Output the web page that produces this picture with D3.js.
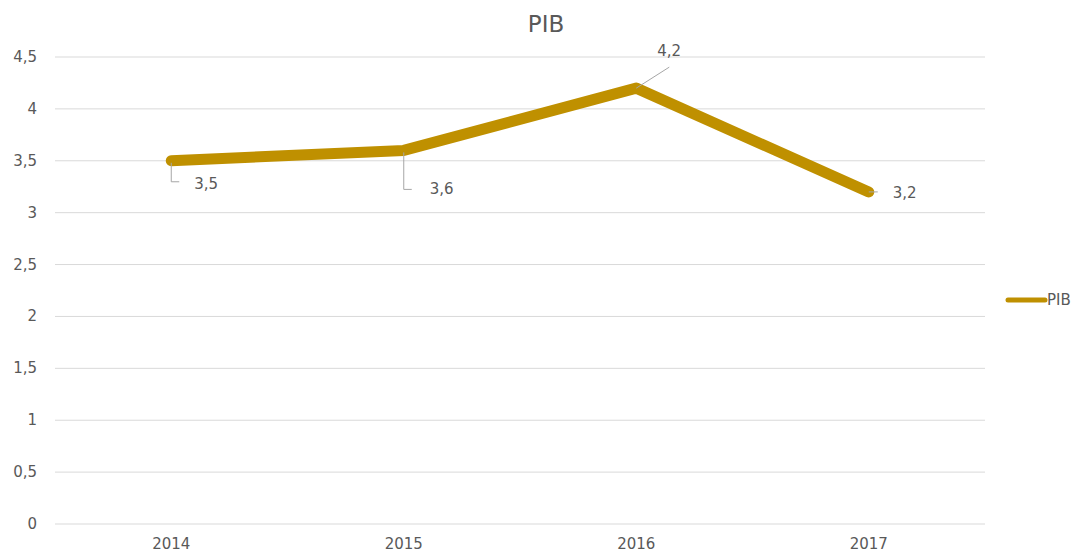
<!DOCTYPE html>
<html>
<head>
<meta charset="utf-8">
<script src="https://cdn.jsdelivr.net/npm/d3@7"></script>
<style>
  body { margin: 0; background: #fff; }
  text { font-family: "DejaVu Sans", sans-serif; fill: #595959; }
</style>
</head>
<body>
<svg id="chart" width="1073" height="552"></svg>
<script>
// Data
const years = ["2014", "2015", "2016", "2017"];
const pib = [3.5, 3.6, 4.2, 3.2];
const yTicks = [0, 0.5, 1, 1.5, 2, 2.5, 3, 3.5, 4, 4.5];

// Layout
const margin = { top: 57, right: 88, bottom: 28, left: 55 };
const svgWidth = 1073, svgHeight = 552;
const width = svgWidth - margin.left - margin.right;
const height = svgHeight - margin.top - margin.bottom;
const lineColor = "#BF9000";

const svg = d3.select("#chart");
const chart = svg.append("g").attr("transform", "translate(" + margin.left + "," + margin.top + ")");

const x = d3.scaleBand().domain(years).range([0, width]);
const y = d3.scaleLinear().domain([0, 4.5]).range([height, 0]);
const fmt = v => String(v).replace(".", ",");

// gridlines
chart.selectAll(".grid")
  .data(yTicks)
  .enter()
  .append("line")
  .attr("x1", 0).attr("x2", width)
  .attr("y1", d => y(d)).attr("y2", d => y(d))
  .attr("stroke", "#d9d9d9").attr("stroke-width", 1);

// y labels
chart.selectAll(".ylab")
  .data(yTicks)
  .enter()
  .append("text")
  .attr("x", -18)
  .attr("y", d => y(d) + 5)
  .attr("text-anchor", "end")
  .style("font-size", "15px")
  .text(fmt);

// x labels
chart.selectAll(".xlab")
  .data(years)
  .enter()
  .append("text")
  .attr("x", d => x(d) + x.bandwidth() / 2)
  .attr("y", height + 25)
  .attr("text-anchor", "middle")
  .style("font-size", "15px")
  .text(d => d);

// line
const line = d3.line()
  .x((d, i) => x(years[i]) + x.bandwidth() / 2)
  .y(d => y(d));

chart.append("path")
  .datum(pib)
  .attr("d", line)
  .attr("fill", "none")
  .attr("stroke", lineColor)
  .attr("stroke-width", 11)
  .attr("stroke-linecap", "round")
  .attr("stroke-linejoin", "round");

// data labels with leader lines (offsets relative to point)
const labelStyle = [
  { leader: [[0, 2], [0, 21], [8, 21]], dx: 23, dy: 28 },
  { leader: [[0, 2], [0, 39], [8, 39]], dx: 26, dy: 44 },
  { leader: [[0, 0], [33, -21]], dx: 21, dy: -32 },
  { leader: [[0, 0], [9, 0]], dx: 24, dy: 6 }
];

pib.forEach((v, i) => {
  const px = x(years[i]) + x.bandwidth() / 2;
  const py = y(v);
  const s = labelStyle[i];
  chart.append("path")
    .attr("d", d3.line()(s.leader.map(p => [px + p[0], py + p[1]])))
    .attr("fill", "none")
    .attr("stroke", "#a6a6a6")
    .attr("stroke-width", 1);
  chart.append("text")
    .attr("x", px + s.dx)
    .attr("y", py + s.dy)
    .style("font-size", "15px")
    .text(fmt(v));
});

// title
svg.append("text")
  .attr("x", 546)
  .attr("y", 32)
  .attr("text-anchor", "middle")
  .style("font-size", "23px")
  .text("PIB");

// legend
const legend = svg.append("g").attr("transform", "translate(1008,300)");
legend.append("line")
  .attr("x1", 0).attr("x2", 37)
  .attr("stroke", lineColor)
  .attr("stroke-width", 5)
  .attr("stroke-linecap", "round");
legend.append("text")
  .attr("x", 39)
  .attr("y", 5)
  .style("font-size", "15px")
  .text("PIB");
</script>
</body>
</html>
